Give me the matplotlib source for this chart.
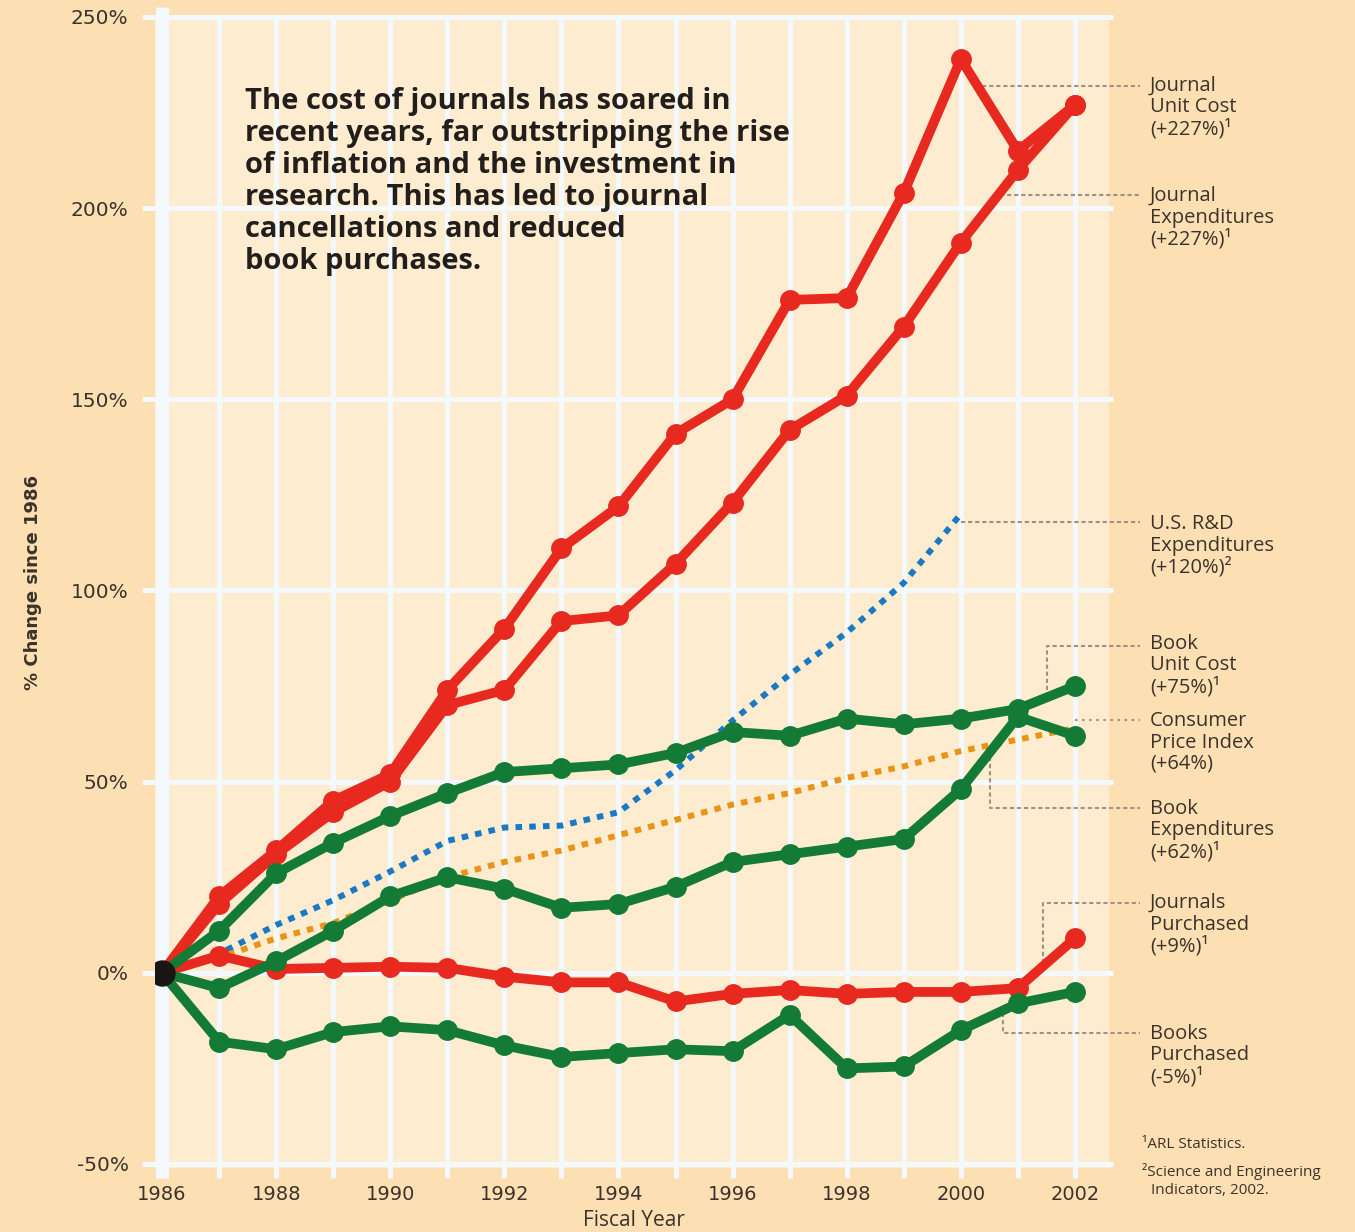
import matplotlib.pyplot as plt

# fiscal years and percent change since 1986
years = list(range(1986, 2003))
journal_unit_cost = [0, 20, 32, 45, 52, 74, 90, 111, 122, 141, 150, 176, 176.5, 204, 239, 215, 227]
journal_expenditures = [0, 18, 31, 42, 50, 70, 74, 92, 93.5, 107, 123, 142, 151, 169, 191, 210, 227]
rd_years = list(range(1986, 2001))
rd_expenditures = [0, 5, 12.5, 19, 26.5, 34.5, 38, 38.5, 42, 53, 66, 78, 89, 102, 120]
cpi = [0, 4, 9, 13, 19, 25, 29, 32, 36, 40, 44, 47, 51, 54, 58, 61, 64]
book_unit_cost = [0, 11, 26, 34, 41, 47, 52.5, 53.5, 54.5, 57.5, 63, 62, 66.5, 65, 66.5, 69, 75]
book_expenditures = [0, -4, 3, 11, 20, 25, 22, 17, 18, 22.5, 29, 31, 33, 35, 48, 67, 62]
journals_purchased = [0, 4.5, 1, 1.3, 1.6, 1.3, -1, -2.5, -2.5, -7.5, -5.5, -4.5, -5.5, -5, -5, -4, 9]
books_purchased = [0, -18, -20, -15.5, -14, -15, -19, -22, -21, -20, -20.5, -11, -25, -24.5, -15, -8, -5]

y_ticks = [-50, 0, 50, 100, 150, 200, 250]
x_tick_years = list(range(1986, 2003, 2))

title_lines = ["The cost of journals has soared in",
               "recent years, far outstripping the rise",
               "of inflation and the investment in",
               "research. This has led to journal",
               "cancellations and reduced",
               "book purchases."]

# series labels: (text lines, label top line y in px, leader path in data coords)
series_labels = [
    (["Journal", "Unit Cost", "(+227%)¹"], 86, [(2000.25, 232), (2003.14, 232)], "dash"),
    (["Journal", "Expenditures", "(+227%)¹"], 196, [(2000.69, 203.5), (2003.14, 203.5)], "dash"),
    (["U.S. R&D", "Expenditures", "(+120%)²"], 524, [(2000.0, 118), (2003.14, 118)], "dash"),
    (["Book", "Unit Cost", "(+75%)¹"], 644, [(2001.51, 74), (2001.51, 85.5), (2003.14, 85.5)], "dash"),
    (["Consumer", "Price Index", "(+64%)"], 721, [(2002.0, 66), (2003.14, 66)], "dot"),
    (["Book", "Expenditures", "(+62%)¹"], 809, [(2000.51, 56.5), (2000.51, 43), (2003.14, 43)], "dash"),
    (["Journals", "Purchased", "(+9%)¹"], 903, [(2001.44, 2.6), (2001.44, 18.3), (2003.14, 18.3)], "dash"),
    (["Books", "Purchased", "(-5%)¹"], 1034, [(2000.74, -10.5), (2000.74, -15.7), (2003.14, -15.7)], "dash"),
]

W, H = 1355, 1232
outer_bg = "#fddfb4"
plot_bg = "#feecd0"
grid_c = "#f3f9fd"
red = "#e8291f"
green = "#137b36"
blue = "#1a78c4"
orange = "#e79418"
text_c = "#3b332b"
leader_c = "#9d9283"

plt.rcParams['font.family'] = ['Open Sans', 'DejaVu Sans']
tick_font = ['DejaVu Sans']


def px(x, y):
    return x / W, 1 - y / H


fig = plt.figure(figsize=(W / 100, H / 100), dpi=100, facecolor=outer_bg)
ax = fig.add_axes([155 / W, 1 - 1168 / H, (1109 - 155) / W, (1168 - 17) / H])
ax.set_facecolor(plot_bg)
ax.set_xlim(1985.877, 2002.597)
ax.set_ylim(-51.05, 250)
for s in ax.spines.values():
    s.set_visible(False)

# grid: horizontal lines poke out past both sides, vertical ones past the bottom
ax.hlines(y_ticks, 1985.65, 2002.67, color=grid_c, lw=3.6, clip_on=False, zorder=1)
ax.vlines(years[1:], -53.7, 250, color=grid_c, lw=3.6, clip_on=False, zorder=1)
ax.vlines(1986, -53.7, 252.6, color=grid_c, lw=9.4, clip_on=False, zorder=1)

ax.set_xticks(x_tick_years)
ax.set_xticklabels([str(y) for y in x_tick_years], fontsize=14, color=text_c, family=tick_font)
ax.set_yticks(y_ticks)
ax.set_yticklabels([f"{v}%" for v in y_ticks], fontsize=14.5, color=text_c, family=tick_font)
ax.tick_params(axis='both', length=0)
ax.tick_params(axis='y', pad=19)
ax.tick_params(axis='x', pad=12)

# dotted reference series
ax.plot(rd_years, rd_expenditures, color=blue, lw=4.3, ls=(0, (1.1, 1.2)), zorder=3)
ax.plot(years, cpi, color=orange, lw=4.3, ls=(0, (1.1, 1.2)), zorder=3)

# journals in red, books in green
for series in [journal_expenditures, journal_unit_cost, journals_purchased]:
    ax.plot(years, series, color=red, lw=7, marker='o', ms=14, zorder=4, solid_joinstyle='round')
for series in [book_unit_cost, book_expenditures, books_purchased]:
    ax.plot(years, series, color=green, lw=7, marker='o', ms=14, zorder=5, solid_joinstyle='round')
ax.plot([years[0]], [0], 'o', color="#1a1616", ms=18, zorder=6)

# leaders and labels on the right
for lines, top, path, style in series_labels:
    xs = [p[0] for p in path]
    ys = [p[1] for p in path]
    ls = (0, (1.2, 2.2)) if style == "dot" else (0, (2, 1.4))
    ax.plot(xs, ys, color=leader_c, lw=1.5, ls=ls, clip_on=False, zorder=2)
    for i, t in enumerate(lines):
        fig.text(*px(1150, top + i * 21.5), t, fontsize=14.5, color=text_c, va='center', ha='left')

fig.text(*px(1142, 1145), "¹ARL Statistics.", fontsize=11, color=text_c, va='center')
fig.text(*px(1142, 1171), "²Science and Engineering", fontsize=11, color=text_c, va='center')
fig.text(*px(1151, 1191), "Indicators, 2002.", fontsize=11, color=text_c, va='center')

for i, t in enumerate(title_lines):
    fig.text(*px(245, 101 + i * 32.2), t, fontsize=21, fontweight='bold', color="#221e1b",
             va='center', ha='left')

fig.text(*px(33, 582), "% Change since 1986", rotation=90, fontsize=13, fontweight='bold',
         color=text_c, va='center', ha='center', family=tick_font)
fig.text(*px(634, 1220), "Fiscal Year", fontsize=15, color=text_c, va='center', ha='center')

fig.savefig("out.png", dpi=100, facecolor=outer_bg)
